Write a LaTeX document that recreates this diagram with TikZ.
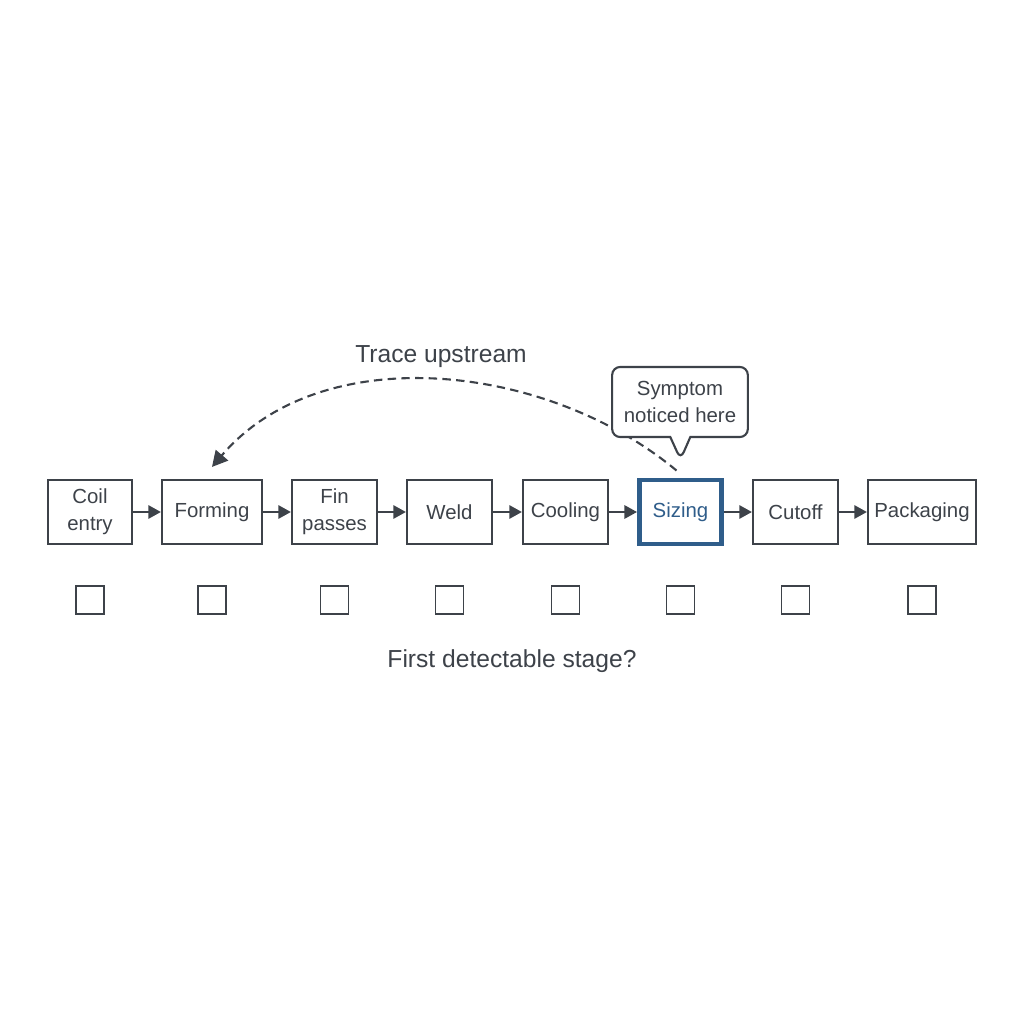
\documentclass[tikz,border=0pt]{standalone}
\usepackage{fontspec}
\setmainfont{Liberation Sans}
\usetikzlibrary{positioning,shapes.callouts,arrows.meta}
\definecolor{ink}{HTML}{3D4249}
\definecolor{stageblue}{HTML}{2F5D8A}
\tikzset{
  stage/.style={draw=ink, line width=0.6pt, minimum height=0.64cm, minimum width=0.85cm,
    inner sep=1pt, align=center, text=ink, font=\fontsize{5.8}{7.7}\selectfont},
  chkbox/.style={draw=ink, line width=0.5pt, minimum size=0.28cm, inner sep=0pt},
  flow/.style={->, draw=ink, line width=0.6pt},
  caption/.style={text=ink, font=\fontsize{7}{8.4}\selectfont},
}

\begin{document}
\begin{tikzpicture}[x=0.01cm, y=-0.01cm, >={Triangle[length=3.6pt,width=3.8pt]}]
  \useasboundingbox (0,0) rectangle (1024,1024);

  %% stages
  \node[stage, minimum width=0.84cm] (coil) at (90,512) {Coil\\entry};
  \node[stage, minimum width=1cm] (forming) at (212,512) {Forming};
  \node[stage] (fin) at (334.5,512) {Fin\\passes};
  \node[stage] (weld) at (449.5,512) {Weld};
  \node[stage] (cooling) at (565.5,512) {Cooling};
  \node[stage, draw=stageblue, text=stageblue, line width=1.4pt, minimum width=0.82cm]
    (sizing) at (680.5,512) {Sizing};
  \node[stage] (cutoff) at (795.5,512) {Cutoff};
  \node[stage, minimum width=1.08cm] (packaging) at (922,512) {Packaging};

  \foreach \a/\b in {coil/forming, forming/fin, fin/weld, weld/cooling,
                     cooling/sizing, sizing/cutoff, cutoff/packaging}
    \draw[flow] (\a) -- (\b);

  %% empty boxes under each stage
  \coordinate (chkrow) at (0,600);
  \foreach \s [count=\i] in {coil,forming,fin,weld,cooling,sizing,cutoff,packaging}
    \node[chkbox] (chk\i) at (\s |- chkrow) {};

  \node[caption] (question) at (512,661) {First detectable stage?};

  %% trace back
  \node[caption] (trace) at (441,357) {Trace upstream};
  \draw[-{Triangle[length=4.4pt,width=4.6pt]}, ink, line width=0.6pt, dash pattern=on 2.4pt off 1.5pt]
    ([shift={(-0.04cm,0.07cm)}]sizing.north) .. controls (546,362) and (321,339) ..
    ([yshift=0.12cm]forming.north);

  \node[rectangle callout, draw=ink, fill=white, line width=0.6pt, rounded corners=0.08cm,
        minimum width=1.34cm, minimum height=0.7cm, align=center, text=ink,
        font=\fontsize{5.8}{7.7}\selectfont,
        callout absolute pointer={([yshift=0.18cm]sizing.north)},
        callout pointer width=0.2cm] (symptom) at (680,402) {Symptom\\noticed here};
\end{tikzpicture}
\end{document}
